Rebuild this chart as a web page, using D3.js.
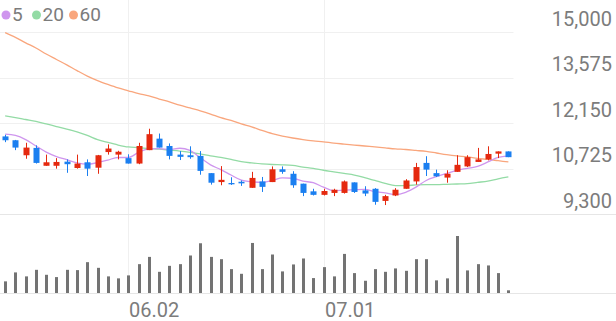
<!DOCTYPE html>
<html>
<head>
<meta charset="utf-8">
<script src="https://cdn.jsdelivr.net/npm/d3@7/dist/d3.min.js"></script>
<style>
  body { margin: 0; background: #fff; }
  svg { display: block; font-family: Roboto, "Noto Sans", sans-serif; }
</style>
</head>
<body>
<div id="chart_area"></div>
<script>
// daily candles, 2025.05.15 - 2025.07.25
var dates = ["05.15","05.16","05.19","05.20","05.21","05.22","05.23","05.26","05.27","05.28",
             "05.29","05.30","06.02","06.04","06.05","06.09","06.10","06.11","06.12","06.13",
             "06.16","06.17","06.18","06.19","06.20","06.23","06.24","06.25","06.26","06.27",
             "06.30","07.01","07.02","07.03","07.04","07.07","07.08","07.09","07.10","07.11",
             "07.14","07.15","07.16","07.17","07.18","07.21","07.22","07.23","07.24","07.25"];

var open  = [11730,11610,11140,11370,10810,10810,10940,10740,10920,10750,
             11240,11160,11050,10880,11300,11660,11430,11160,11140,11120,
             10580,10300,10270,10310,10120,10320,10300,10700,10560,10250,
             10010, 9900, 9960, 9960,10290,10040,10090, 9710, 9880,10090,
             10320,10900,10580,10440,10620,10790,10930,11010,11190,11260];
var high  = [11780,11620,11530,11450,11160,11050,11010,11160,11010,11150,
             11480,11280,11170,11530,11970,11820,11510,11270,11420,11270,
             10580,10800,10450,10350,10620,10460,10790,10790,10640,10250,
             10090,10090,10090,10350,10290,10170,10110, 9900,10110,10390,
             10900,11110,10690,10670,11140,11140,11370,11420,11260,11260];
var low   = [11550,11300,11030,10880,10810,10720,10590,10720,10490,10560,
             11160,11010,10880,10860,11300,11380,11010,10990,11030,10530,
             10220,10200,10210,10180,10120, 9990,10300,10560,10120, 9860,
              9880, 9880, 9860, 9940, 9960, 9860, 9590, 9580, 9860,10090,
             10220,10490,10460,10280,10620,10770,10930,10980,11050,11080];
var close = [11610,11380,11380,10900,10920,10930,10860,10880,10720,11140,
             11350,11250,10880,11430,11800,11380,11120,11090,11080,10650,
             10280,10370,10230,10260,10430,10150,10700,10620,10200, 9960,
              9900,10020,10060,10320, 9990, 9940, 9680, 9860,10060,10350,
             10770,10690,10480,10560,10840,11080,11010,11180,11260,11080];

// volume, thousand shares
var volume = [117,207,167,233,183,160,233,230,310,253,
              167,147,177,290,363,213,273,290,377,500,
              363,340,240,193,503,240,387,217,287,347,
              150,260,167,393,200,123,240,213,247,223,
              340,340,127,147,573,227,290,277,200, 27];

// moving averages
var ma5  = [11800,11760,11630,11430,11240,11100,11000,10900,10860,10910,
            10990,11070,11070,11230,11340,11350,11320,11360,11290,11060,
            10840,10690,10520,10360,10310,10290,10350,10430,10420,10330,
            10280,10140,10030,10050,10060,10070,10000, 9960, 9910, 9980,
            10140,10350,10470,10570,10670,10730,10790,10930,11070,11120];
var ma20 = [12370,12320,12260,12200,12120,12040,11960,11870,11760,11630,
            11540,11460,11400,11380,11350,11330,11300,11270,11230,11180,
            11120,11070,11010,10940,10900,10870,10850,10840,10820,10770,
            10730,10670,10620,10570,10520,10440,10350,10260,10190,10190,
            10210,10220,10220,10230,10240,10250,10290,10330,10400,10460];
var ma60 = [14980,14830,14660,14500,14310,14140,13970,13790,13620,13480,
            13360,13250,13160,13070,13000,12900,12810,12710,12620,12530,
            12430,12320,12230,12120,12030,11920,11820,11740,11680,11630,
            11590,11560,11520,11490,11460,11430,11400,11370,11340,11320,
            11290,11260,11210,11160,11120,11090,11040,11010,10970,10930];

var priceTicks = [9300, 10725, 12150, 13575, 15000];
var dateTicks = ["06.02", "07.01"];

var maSeries = [
    {name: "5",  values: ma5,  color: "#cf96ee"},
    {name: "20", values: ma20, color: "#93dba5"},
    {name: "60", values: ma60, color: "#f9a67d"}
];

var W = 616, H = 321,
    plotRight = 513.5;

var svg = d3.select("#chart_area").append("svg")
    .attr("width", W)
    .attr("height", H);

var x = d3.scaleBand()
    .domain(dates)
    .range([0, plotRight]);
var cx = function(d) { return Math.round(x(d) + x.bandwidth() / 2); };

var y = d3.scaleLinear()
    .domain([9300, 15000])
    .range([214, 32]);

var yv = d3.scaleLinear()
    .domain([0, d3.max(volume)])
    .range([293, 236]);

// grid
svg.append("g")
    .selectAll("line")
    .data(priceTicks.slice(1))
    .enter().append("line")
    .attr("x1", 0).attr("x2", plotRight)
    .attr("y1", function(d) { return Math.round(y(d)) + 0.5; })
    .attr("y2", function(d) { return Math.round(y(d)) + 0.5; })
    .attr("stroke", "#f0f0f0");

svg.append("g")
    .selectAll("line")
    .data(dateTicks)
    .enter().append("line")
    .attr("x1", function(d) { return cx(d) + 0.5; })
    .attr("x2", function(d) { return cx(d) + 0.5; })
    .attr("y1", 0).attr("y2", 293)
    .attr("stroke", "#f0f0f0");

svg.append("line")
    .attr("x1", 0).attr("x2", W)
    .attr("y1", Math.round(y(9300)) + 0.5).attr("y2", Math.round(y(9300)) + 0.5)
    .attr("stroke", "#e6e6e6");

svg.append("line")
    .attr("x1", 0).attr("x2", W)
    .attr("y1", 293.5).attr("y2", 293.5)
    .attr("stroke", "#e6e6e6");

// price labels on the right
svg.append("g")
    .selectAll("text")
    .data(priceTicks)
    .enter().append("text")
    .attr("x", 612)
    .attr("y", function(d) { return y(d) - 6.5; })
    .attr("text-anchor", "end")
    .attr("font-size", 20)
    .attr("fill", "#7c7c7c")
    .text(d3.format(","));

// date labels
svg.append("g")
    .selectAll("text")
    .data(dateTicks)
    .enter().append("text")
    .attr("x", function(d) { return cx(d) + 1; })
    .attr("y", 316.5)
    .attr("font-size", 20)
    .attr("fill", "#7c7c7c")
    .text(function(d) { return d; });

// moving averages
var line = d3.line()
    .x(function(d, i) { return x(dates[i]) + x.bandwidth() / 2; })
    .y(function(d) { return y(d); })
    .curve(d3.curveMonotoneX);

svg.append("g")
    .attr("fill", "none")
    .selectAll("path")
    .data(maSeries.slice().reverse())
    .enter().append("path")
    .attr("d", function(d) { return line(d.values); })
    .attr("stroke", function(d) { return d.color; })
    .attr("stroke-width", 1.3);

// candles
var up = "#e5290f", down = "#1b7ff0";
var candle = svg.append("g")
    .selectAll("g")
    .data(dates)
    .enter().append("g");

candle.append("line")
    .attr("x1", function(d) { return cx(d) + 0.5; })
    .attr("x2", function(d) { return cx(d) + 0.5; })
    .attr("y1", function(d, i) { return y(high[i]); })
    .attr("y2", function(d, i) { return y(low[i]); })
    .attr("stroke", function(d, i) { return close[i] >= open[i] ? up : down; });

candle.append("rect")
    .attr("x", function(d) { return cx(d) - 2.5; })
    .attr("width", 6)
    .attr("y", function(d, i) { return y(Math.max(open[i], close[i])); })
    .attr("height", function(d, i) { return Math.max(1, Math.abs(y(open[i]) - y(close[i]))); })
    .attr("fill", function(d, i) { return close[i] >= open[i] ? up : down; });

// volume bars
svg.append("g")
    .selectAll("rect")
    .data(volume)
    .enter().append("rect")
    .attr("x", function(d, i) { return cx(dates[i]) - 1; })
    .attr("width", 3)
    .attr("y", function(d) { return yv(d); })
    .attr("height", function(d) { return 293 - yv(d); })
    .attr("fill", "#737373");

// legend
var legend = svg.append("g")
    .selectAll("g")
    .data(maSeries)
    .enter().append("g")
    .attr("transform", function(d, i) { return "translate(" + [6, 36.5, 73.5][i] + ",15)"; });

legend.append("circle")
    .attr("r", 4.5)
    .attr("fill", function(d) { return d.color; });

legend.append("text")
    .attr("x", 6)
    .attr("y", 5.5)
    .attr("font-size", 19)
    .attr("fill", "#7c7c7c")
    .text(function(d) { return d.name; });
</script>
</body>
</html>
